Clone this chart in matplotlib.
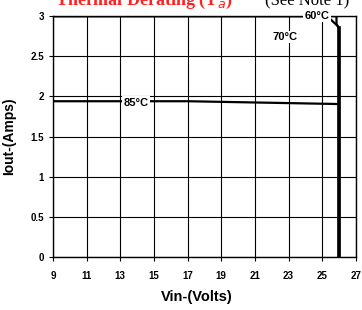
import matplotlib
matplotlib.use("Agg")
import matplotlib.pyplot as plt

# data
vin_60 = [9, 25.85, 25.85, 26, 26]
iout_60 = [3, 3, 2.9, 2.85, 0]
vin_70 = [9, 25.3, 25.9, 26, 26]
iout_70 = [3, 3, 2.88, 2.85, 0]
vin_85 = [9, 17, 26, 26]
iout_85 = [1.94, 1.94, 1.905, 0]

x_ticks = [9, 11, 13, 15, 17, 19, 21, 23, 25, 27]
y_ticks = [0, 0.5, 1, 1.5, 2, 2.5, 3]
y_tick_labels = ['0', '0.5', '1', '1.5', '2', '2.5', '3']

plt.rcParams['font.family'] = ['Liberation Sans', 'DejaVu Sans']

fig = plt.figure(figsize=(3.62, 3.10), dpi=100)
ax = fig.add_axes([0.1464, 0.171, 0.8366, 0.777])

ax.plot(vin_85, iout_85, color='black', lw=1.6, zorder=3)
ax.plot(vin_70, iout_70, color='black', lw=1.6, zorder=3)
ax.plot(vin_60, iout_60, color='black', lw=1.6, zorder=3)
# the common drop at 26 V is drawn heavier
ax.plot([26, 26], [2.85, 0], color='black', lw=2.6, zorder=3)

box = dict(facecolor='white', edgecolor='none', pad=1)
ax.text(24.7, 3.0, '60°C', fontsize=8, fontweight='bold', ha='center', va='center', bbox=box, zorder=4)
ax.text(22.8, 2.74, '70°C', fontsize=8, fontweight='bold', ha='center', va='center', bbox=box, zorder=4)
ax.text(13.95, 1.92, '85°C', fontsize=8, fontweight='bold', ha='center', va='center', bbox=box, zorder=4)

ax.set_xlim(9, 27)
ax.set_ylim(0, 3)
ax.set_xticks(x_ticks)
ax.set_yticks(y_ticks)
ax.set_yticklabels(y_tick_labels)
ax.grid(True, color='black', lw=0.8)
ax.set_axisbelow(True)
for s in ax.spines.values():
    s.set_linewidth(1.0)
ax.tick_params(axis='both', labelsize=7, length=3, width=0.8, direction='out')
ax.tick_params(axis='x', pad=7)
for lbl in ax.get_xticklabels() + ax.get_yticklabels():
    lbl.set_fontweight('bold')

ax.set_ylabel('Iout-(Amps)', fontsize=10, fontweight='bold', labelpad=10)
ax.set_xlabel('Vin-(Volts)', fontsize=10.5, fontweight='bold', labelpad=13,
              family=['Liberation Sans Narrow', 'Liberation Sans'])
ax.xaxis.set_label_coords(0.475, -0.135)

fig.text(0.152, 0.984, 'Thermal Derating (T$_a$)', color='#ff2020', fontsize=13,
         fontweight='bold', family='Liberation Serif', va='baseline')
fig.text(0.732, 0.984, '(See Note 1)', color='black', fontsize=12,
         family='Liberation Serif', va='baseline')

fig.savefig('out.png', dpi=100)
